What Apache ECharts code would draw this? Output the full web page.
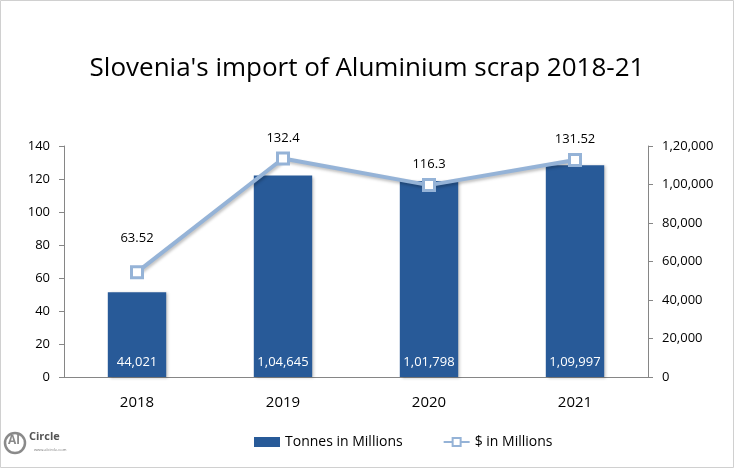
<!DOCTYPE html>
<html>
<head>
<meta charset="utf-8">
<script src="https://cdn.jsdelivr.net/npm/echarts@6/dist/echarts.min.js"></script>
<style>
  html, body { margin: 0; padding: 0; background: #fff; }
  #chart { width: 734px; height: 468px; }
</style>
</head>
<body>
<div id="chart"></div>
<script>
const years = ['2018', '2019', '2020', '2021']
const tonnes = [44021, 104645, 101798, 109997]
const dollars = [63.52, 132.4, 116.3, 131.52]

// Indian style grouping: 1,20,000
const indian = (v) => {
  const s = String(Math.round(v))
  if (s.length <= 3) return s
  const last3 = s.slice(-3)
  const rest = s.slice(0, -3).replace(/\B(?=(\d{2})+(?!\d))/g, ',')
  return rest + ',' + last3
}

const font = 'Open Sans, Noto Sans, sans-serif'
const chart = echarts.init(document.getElementById('chart'))

// first label sits a bit higher in the original
const dollarData = dollars.map((v, i) => i === 0 ? { value: v, label: { distance: 20 } } : v)

chart.setOption({
  backgroundColor: '#fff',
  animation: false,
  title: {
    text: "Slovenia's import of Aluminium scrap 2018-21",
    left: 'center',
    top: 51,
    textStyle: { fontFamily: font, fontSize: 26, fontWeight: 'normal', color: '#000' }
  },
  legend: {
    bottom: 14,
    left: 249,
    itemGap: 40,
    itemWidth: 26,
    itemHeight: 10,
    textStyle: { fontFamily: font, fontSize: 14, color: '#000' },
    data: [
      { name: 'Tonnes in Millions', icon: 'rect' },
      { name: '$ in Millions' }
    ]
  },
  grid: { left: 64, right: 86, top: 146, bottom: 91 },
  xAxis: {
    type: 'category',
    data: years,
    axisLine: { lineStyle: { color: '#868686', width: 1 } },
    axisTick: { show: false },
    axisLabel: { fontFamily: font, fontSize: 15, color: '#000', margin: 18 }
  },
  yAxis: [
    {
      type: 'value',
      min: 0,
      max: 140,
      interval: 20,
      position: 'left',
      splitLine: { show: false },
      axisLine: { show: true, lineStyle: { color: '#868686' } },
      axisTick: { show: true, length: 5, lineStyle: { color: '#868686' } },
      axisLabel: { fontFamily: font, fontSize: 13, color: '#000', margin: 14 }
    },
    {
      type: 'value',
      min: 0,
      max: 120000,
      interval: 20000,
      position: 'right',
      splitLine: { show: false },
      axisLine: { show: true, lineStyle: { color: '#868686' } },
      axisTick: { show: true, length: 5, lineStyle: { color: '#868686' } },
      axisLabel: { fontFamily: font, fontSize: 13, color: '#000', margin: 14, formatter: indian }
    }
  ],
  series: [
    {
      name: 'Tonnes in Millions',
      type: 'bar',
      yAxisIndex: 1,
      data: tonnes,
      barWidth: '40%',
      itemStyle: {
        color: '#285a98',
        shadowColor: 'rgba(0,0,0,0.25)',
        shadowBlur: 3,
        shadowOffsetX: 2,
        shadowOffsetY: 1
      },
      label: {
        show: true,
        position: 'insideBottom',
        distance: 8,
        color: '#fff',
        fontFamily: font,
        fontSize: 13,
        formatter: (p) => indian(p.value)
      }
    },
    {
      name: '$ in Millions',
      type: 'line',
      yAxisIndex: 0,
      data: dollarData,
      symbol: 'rect',
      symbolSize: 11,
      lineStyle: {
        color: '#95b3d7',
        width: 4,
        shadowColor: 'rgba(0,0,0,0.25)',
        shadowBlur: 3,
        shadowOffsetX: 1,
        shadowOffsetY: 2
      },
      itemStyle: { color: '#fff', borderColor: '#95b3d7', borderWidth: 3 },
      label: {
        show: true,
        position: 'top',
        distance: 7,
        color: '#000',
        fontFamily: font,
        fontSize: 13
      },
      z: 3
    }
  ],
  graphic: [
    {
      type: 'rect',
      shape: { x: 0.5, y: 0.5, width: 733, height: 467 },
      style: { fill: 'none', stroke: '#d0d0d0', lineWidth: 1 },
      silent: true
    },
    {
      type: 'circle',
      shape: { cx: 15, cy: 443, r: 10 },
      style: { fill: 'none', stroke: '#8a8a8a', lineWidth: 2.5 }
    },
    {
      type: 'text',
      left: 8, top: 435,
      style: { text: 'Al', fontFamily: font, fontSize: 12, fontWeight: 'bold', fill: '#8a8a8a' }
    },
    {
      type: 'text',
      left: 29, top: 431,
      style: { text: 'Circle', fontFamily: font, fontSize: 11, fontWeight: 'bold', fill: '#555' }
    },
    {
      type: 'text',
      left: 34, top: 448,
      style: { text: 'www.alcircle.com', fontFamily: font, fontSize: 4, fill: '#777' }
    }
  ]
})
</script>
</body>
</html>
